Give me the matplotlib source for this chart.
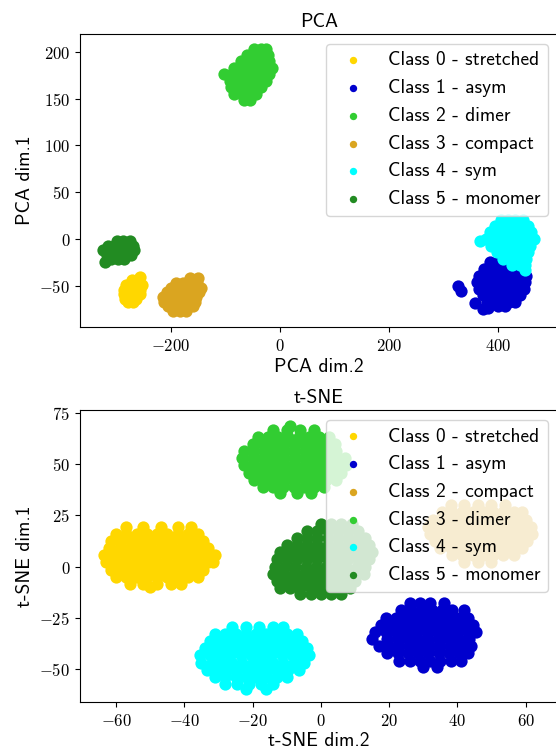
import numpy as np
import matplotlib
matplotlib.use('Agg')
import matplotlib.pyplot as plt
from matplotlib.ticker import FuncFormatter

plt.rcParams['mathtext.fontset'] = 'cm'

# ---------------- PCA clusters (rows: y -> list of x) ----------------
pca_labels = ['Class 0 - stretched', 'Class 1 - asym', 'Class 2 - dimer',
              'Class 3 - compact', 'Class 4 - sym', 'Class 5 - monomer']
pca_colors = ['gold', 'mediumblue', 'limegreen', 'goldenrod', 'cyan', 'forestgreen']

pca_stretched = {-41: [-257], -44: [-272, -262], -49: [-283, -273, -263, -253],
                 -54: [-287, -277, -267, -257], -59: [-286, -276, -266, -256],
                 -64: [-284, -274, -264], -67: [-279, -269]}
pca_asym = {-25: [385, 400, 415], -32: [375, 390, 405, 420, 435],
            -39: [365, 380, 395, 410, 425, 440, 452],
            -46: [362, 375, 390, 405, 420, 435, 450],
            -50: [327], -56: [332],
            -53: [365, 378, 392, 407, 422, 437, 448],
            -60: [372, 386, 400, 414, 428, 440],
            -67: [380, 394, 408, 420, 432], -68: [358],
            -72: [400, 412], -74: [382], -75: [372]}
pca_dimer = {203: [-48, -35, -26], 197: [-60, -47, -33, -22],
             190: [-72, -58, -45, -32, -20], 183: [-85, -70, -57, -44, -30, -14],
             176: [-103, -88, -75, -60, -47, -33, -20],
             169: [-92, -80, -66, -52, -38, -25], 162: [-90, -76, -62, -48, -35],
             155: [-85, -70, -56, -45], 148: [-66, -55]}
pca_compact = {-42: [-165, -150], -47: [-190, -178, -165, -152],
               -52: [-200, -188, -176, -164, -152, -145],
               -57: [-208, -196, -184, -172, -160, -148],
               -62: [-214, -202, -190, -178, -166, -155],
               -67: [-212, -200, -188, -176, -164, -156],
               -72: [-206, -194, -182, -170, -160], -77: [-196, -184, -172]}
pca_sym = {20: [406, 418, 432, 446], 14: [394, 406, 418, 430, 442, 455],
           7: [386, 402, 416, 430, 445, 460], 0: [378, 395, 410, 425, 440, 455, 466],
           -2: [367], -7: [387, 400, 414, 428, 443, 458],
           -14: [398, 412, 426, 440, 455], -21: [410, 424, 438, 452],
           -28: [425, 440, 450], -33: [449]}
pca_monomer = {-2: [-300, -288, -276], -7: [-316, -305, -293, -281, -270],
               -12: [-324, -312, -300, -288, -276, -268],
               -17: [-318, -306, -294, -282, -273], -21: [-310, -298, -287],
               -25: [-321]}

# ---------------- t-SNE clusters (rows: y -> list of x) ----------------
tsne_labels = ['Class 0 - stretched', 'Class 1 - asym', 'Class 2 - compact',
               'Class 3 - dimer', 'Class 4 - sym', 'Class 5 - monomer']
tsne_colors = ['gold', 'mediumblue', 'goldenrod', 'limegreen', 'cyan', 'forestgreen']

tsne_stretched = {19.5: [-57, -52, -47, -42, -38],
                  16: [-60, -57, -54, -51, -48, -45, -42, -39, -36],
                  12.5: [-61.5, -58.5, -55.5, -52.5, -49.5, -46.5, -43.5, -40.5, -37.5, -34.5],
                  9: [-62, -59, -56, -53, -50, -47, -44, -41, -38, -35, -33],
                  5.5: [-63.5, -60.5, -57.5, -54.5, -51.5, -48.5, -45.5, -42.5, -39.5, -36.5, -33.5, -31],
                  2: [-63, -60, -57, -54, -51, -48, -45, -42, -39, -36, -33, -31.5],
                  -1.5: [-61.5, -58.5, -55.5, -52.5, -49.5, -46.5, -43.5, -40.5, -37.5, -34.5],
                  -5: [-60, -57, -54, -51, -48, -45, -42, -39, -36],
                  -8.5: [-56, -52, -48, -44, -41], -10: [-50]}
tsne_asym = {-18: [26, 29, 32, 36],
             -21.5: [23.5, 26.5, 29.5, 32.5, 35.5, 38.5, 42],
             -25: [19, 22, 25, 28, 31, 34, 37, 40, 43],
             -28.5: [17.5, 20.5, 23.5, 26.5, 29.5, 32.5, 35.5, 38.5, 41.5, 44.5],
             -32: [16, 19, 22, 25, 28, 31, 34, 37, 40, 43, 45.5],
             -35.5: [15, 19.5, 22.5, 25.5, 28.5, 31.5, 34.5, 37.5, 40.5, 43.5],
             -39: [17, 20, 23, 26, 29, 32, 35, 38, 41, 44],
             -42.5: [19.5, 22.5, 25.5, 28.5, 31.5, 34.5, 37.5, 40.5, 43],
             -46: [23, 26, 29, 32, 35, 38, 41], -49: [30, 34]}
tsne_compact = {30: [38, 42, 46, 50, 54],
                26.5: [35.5, 38.5, 41.5, 44.5, 47.5, 50.5, 53.5, 56.5, 59],
                23: [33, 36, 39, 42, 45, 48, 51, 54, 57, 60],
                19.5: [31.5, 34.5, 37.5, 40.5, 43.5, 46.5, 49.5, 52.5, 55.5, 58.5, 61.5],
                16: [32, 35, 38, 41, 44, 47, 50, 53, 56, 59, 62],
                12.5: [33.5, 36.5, 39.5, 42.5, 45.5, 48.5, 51.5, 54.5, 57.5, 60.5],
                9: [35, 38, 41, 44, 47, 50, 53, 56, 59],
                5.5: [38.5, 41.5, 44.5, 47.5, 50.5, 53.5, 56.5], 2: [42, 46, 50]}
tsne_dimer = {69: [-9], 67: [-14, -10, -6, -2],
              63.5: [-18.5, -15.5, -12.5, -9.5, -6.5, -3.5, -0.5, 2.5],
              60: [-20, -17, -14, -11, -8, -5, -2, 1, 4],
              56.5: [-22.5, -19.5, -16.5, -13.5, -10.5, -7.5, -4.5, -1.5, 1.5, 4.5],
              53: [-23, -20, -17, -14, -11, -8, -5, -2, 1, 4, 7],
              49.5: [-22.5, -19.5, -16.5, -13.5, -10.5, -7.5, -4.5, -1.5, 1.5, 4.5, 7.5],
              46: [-21, -18, -15, -12, -9, -6, -3, 0, 3, 6],
              42.5: [-19.5, -16.5, -13.5, -10.5, -7.5, -4.5, -1.5, 1.5, 4.5],
              39: [-17, -14, -11, -8, -5, -2, 1], 36: [-12, -7, -3]}
tsne_sym = {-29.5: [-26, -22, -18, -14, -11],
            -33: [-31, -28, -25, -22, -19, -16, -13, -10, -7],
            -36.5: [-32.5, -29.5, -26.5, -23.5, -20.5, -17.5, -14.5, -11.5, -8.5, -5.5],
            -40: [-34, -31, -28, -25, -22, -19, -16, -13, -10, -7, -4],
            -43.5: [-35.5, -32.5, -29.5, -26.5, -23.5, -20.5, -17.5, -14.5, -11.5, -8.5, -5.5, -3.5],
            -47: [-35, -32, -29, -26, -23, -20, -17, -14, -11, -8, -5],
            -50.5: [-33.5, -30.5, -27.5, -24.5, -21.5, -18.5, -15.5, -12.5, -9.5, -6.5],
            -54: [-31, -28, -25, -22, -19, -16, -13, -10],
            -57.5: [-28, -24.5, -21, -17.5, -14], -60: [-22, -16]}
tsne_monomer = {21: [0, 3, 6, 9], 17.5: [-4, -1, 2, 5, 8, 11],
                14: [-7, -4, -1, 2, 5, 8, 11, 13],
                10.5: [-10, -7, -4, -1, 2, 5, 8, 11, 14],
                7: [-12, -9, -6, -3, 0, 3, 6, 9, 12, 15],
                3.5: [-13, -10, -7, -4, -1, 2, 5, 8, 11, 14],
                0: [-13.5, -10.5, -7.5, -4.5, -1.5, 1.5, 4.5, 7.5, 10.5, 13],
                -3.5: [-14, -11, -8, -5, -2, 1, 4, 7, 10, 12.5],
                -7: [-13, -10, -7, -4, -1, 2, 5, 8, 10],
                -10.5: [-12, -9, -6, -3, 0, 3, 6, 8.5],
                -13.5: [-6, -3, 0, 3, 6]}

pca_xticks = [-200, 0, 200, 400]
pca_yticks = [-50, 0, 50, 100, 150, 200]
tsne_xticks = [-60, -40, -20, 0, 20, 40, 60]
tsne_yticks = [-50, -25, 0, 25, 50, 75]


def rows_to_xy(rows):
    xs, ys = [], []
    for y, xlist in rows.items():
        xs.extend(xlist)
        ys.extend([y] * len(xlist))
    return np.array(xs, float), np.array(ys, float)


fmt = FuncFormatter(lambda v, p: r'$%g$' % v)
SANS = 'cmss10'

fig = plt.figure(figsize=(5.56, 7.51), dpi=100)
ax1 = fig.add_axes([80 / 556, 1 - 327 / 751, 478 / 556, 293 / 751])
ax2 = fig.add_axes([80 / 556, 1 - 702 / 751, 478 / 556, 292 / 751])

pca_sets = [pca_stretched, pca_asym, pca_dimer, pca_compact, pca_sym, pca_monomer]
tsne_sets = [tsne_stretched, tsne_asym, tsne_compact, tsne_dimer, tsne_sym, tsne_monomer]

for ax, sets, labels, colors, title, xl, yl, xt, yt, xlim, ylim in [
        (ax1, pca_sets, pca_labels, pca_colors, 'PCA', 'PCA dim.2', 'PCA dim.1',
         pca_xticks, pca_yticks, (-367, 510), (-94, 219)),
        (ax2, tsne_sets, tsne_labels, tsne_colors, 't-SNE', 't-SNE dim.2', 't-SNE dim.1',
         tsne_xticks, tsne_yticks, (-70.6, 69.5), (-66.3, 76.6))]:
    for rows, lab, col in zip(sets, labels, colors):
        x, y = rows_to_xy(rows)
        ax.scatter(x, y, s=78, c=col, label=lab, linewidths=0)
    ax.set_xlim(*xlim)
    ax.set_ylim(*ylim)
    ax.set_xticks(xt)
    ax.set_yticks(yt)
    ax.xaxis.set_major_formatter(fmt)
    ax.yaxis.set_major_formatter(fmt)
    ax.tick_params(labelsize=12)
    ax.set_title(title, fontfamily=SANS, fontsize=14, pad=5)
    ax.set_xlabel(xl, fontfamily=SANS, fontsize=14, labelpad=2)
    ax.set_ylabel(yl, fontfamily=SANS, fontsize=14)
    ax.legend(loc='upper right', prop={'family': SANS, 'size': 14}, scatterpoints=1,
              markerscale=0.6)

fig.savefig('out.png', dpi=100)
